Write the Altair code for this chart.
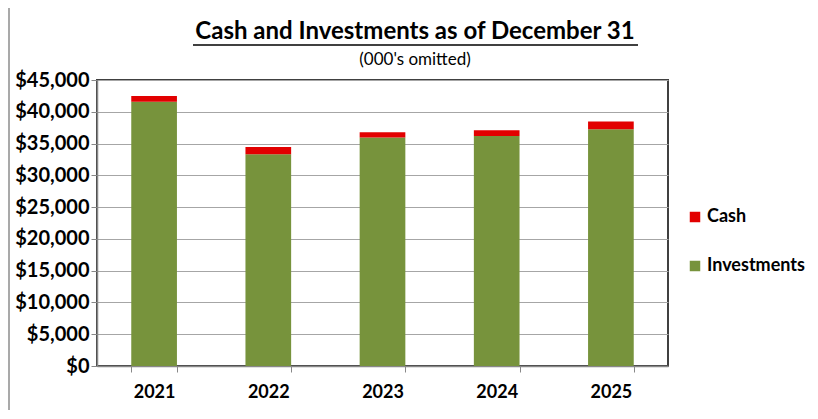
import altair as alt
import pandas as pd

years = ["2021", "2022", "2023", "2024", "2025"]
investments = [41570, 33320, 35940, 36200, 37260]
cash = [930, 1150, 840, 890, 1200]
series = ["Cash", "Investments"]
colors = ["#E20000", "#77933C"]
y_ticks = [0, 5000, 10000, 15000, 20000, 25000, 30000, 35000, 40000, 45000]
title_text = "Cash and Investments as of December 31"
subtitle_text = "(000's omitted)"

rows = []
for y, inv, c in zip(years, investments, cash):
    rows.append({"Year": y, "Series": "Investments", "Value": inv, "ord": 0})
    rows.append({"Year": y, "Series": "Cash", "Value": c, "ord": 1})
df = pd.DataFrame(rows)
tdf = pd.DataFrame({"title": [title_text], "subtitle": [subtitle_text]})

FONT = "Lato"
W, H = 571, 286

bars = alt.Chart(df).mark_bar().encode(
    x=alt.X("Year:N", title=None,
            scale=alt.Scale(paddingInner=0.6, paddingOuter=0.3),
            axis=alt.Axis(labelAngle=0, labelFont=FONT, labelFontWeight="bold",
                          labelFontSize=18, labelColor="black", labelPadding=11,
                          tickBand="extent", tickSize=6, tickColor="#888888",
                          domainColor="#888888", domainWidth=1.5)),
    y=alt.Y("Value:Q", title=None, stack="zero",
            scale=alt.Scale(domain=[0, 45000], nice=False),
            axis=alt.Axis(values=y_ticks, format="$,.0f", labelFont=FONT,
                          labelFontWeight="bold", labelFontSize=20, labelColor="black",
                          labelPadding=2, tickSize=6, tickColor="#888888",
                          domainColor="#888888", domainWidth=1.5,
                          gridColor="#a6a6a6", gridWidth=1.2)),
    color=alt.Color("Series:N", title=None,
                    scale=alt.Scale(domain=series, range=colors),
                    legend=alt.Legend(orient="none", legendX=589, legendY=128,
                                      symbolType="square", symbolSize=110,
                                      symbolStrokeWidth=0, labelFont=FONT,
                                      labelFontWeight="bold", labelFontSize=18,
                                      labelColor="black", rowPadding=31,
                                      labelOffset=3)),
    order=alt.Order("ord:Q"),
)

title = alt.Chart(tdf).mark_text(
    font=FONT, fontSize=24, fontWeight="bold", color="black", baseline="middle"
).encode(x=alt.value(318), y=alt.value(-48), text="title:N")

subtitle = alt.Chart(tdf).mark_text(
    font=FONT, fontSize=17, color="black", baseline="middle"
).encode(x=alt.value(318), y=alt.value(-20), text="subtitle:N")

underline = alt.Chart(tdf).mark_rule(color="black", strokeWidth=1.5).encode(
    x=alt.value(96), x2=alt.value(541), y=alt.value(-35)
)
frame_left = alt.Chart(tdf).mark_rule(color="#8c8c8c", strokeWidth=1.5).encode(
    x=alt.value(-88), y=alt.value(-76), y2=alt.value(330)
)
frame_top = alt.Chart(tdf).mark_rule(color="#8c8c8c", strokeWidth=1.5).encode(
    x=alt.value(-88), x2=alt.value(720), y=alt.value(-76)
)

chart = alt.layer(bars, title, subtitle, underline, frame_left, frame_top).properties(
    width=W, height=H,
    autosize=alt.AutoSizeParams(type="none"),
    padding={"left": 89, "top": 72, "right": 142, "bottom": 45},
).configure_view(stroke="#404040", strokeWidth=2)

chart.save("out.html", embed_options={"renderer": "svg", "actions": False})
